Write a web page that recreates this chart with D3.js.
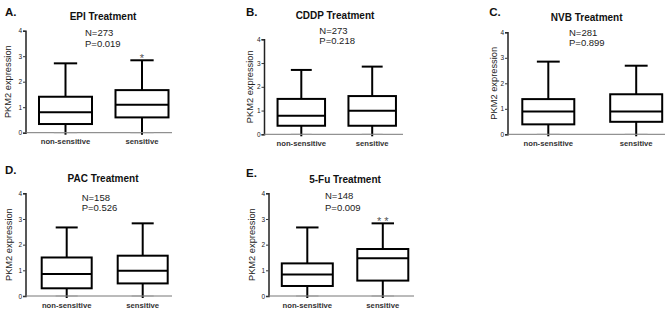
<!DOCTYPE html>
<html>
<head>
<meta charset="utf-8">
<script src="https://cdn.jsdelivr.net/npm/d3@7"></script>
<style>
  body { margin: 0; background: #fff; }
  svg { display: block; font-family: "Liberation Sans", Arial, sans-serif; }
</style>
</head>
<body>
<div id="chart"></div>
<script>
// data
var panelLetters = ["A.", "B.", "C.", "D.", "E."];
var treatments = ["EPI Treatment", "CDDP Treatment", "NVB Treatment", "PAC Treatment", "5-Fu Treatment"];
var nValues = [273, 273, 281, 158, 148];
var pValues = ["0.019", "0.218", "0.899", "0.526", "0.009"];
var significance = ["*", "", "", "", "* *"];
var groups = ["non-sensitive", "sensitive"];
var yTicks = [0, 1, 2, 3, 4];
var yLabel = "PKM2 expression";

// box stats per panel: [non-sensitive, sensitive]
var boxMin = [[0, 0], [0, 0], [0, 0], [0, 0], [0, 0]];
var boxQ1 = [[0.34, 0.60], [0.36, 0.36], [0.39, 0.49], [0.30, 0.49], [0.39, 0.60]];
var boxMedian = [[0.80, 1.10], [0.78, 0.99], [0.89, 0.89], [0.86, 0.98], [0.84, 1.47]];
var boxQ3 = [[1.41, 1.67], [1.49, 1.61], [1.38, 1.57], [1.50, 1.57], [1.27, 1.83]];
var boxMax = [[2.72, 2.84], [2.71, 2.85], [2.85, 2.69], [2.67, 2.83], [2.67, 2.83]];

// layout of each small panel (pixels)
var layout = [
    {ax: 25.5, axEnd: 172, c0: 65.5, c1: 142, bw: 53, yTop: 30.7, yBot: 132.7, lx: 5, ly: 16, tx: 103, ty: 19.5, nx: 85, ny: 35.5, py: 46.5, labX: 8},
    {ax: 264, axEnd: 403, c0: 301.3, c1: 372.2, bw: 47.5, yTop: 39.3, yBot: 134.3, lx: 246, ly: 15.7, tx: 335, ty: 18.5, nx: 319.3, ny: 34, py: 44, labX: 250},
    {ax: 507.5, axEnd: 665, c0: 548.3, c1: 636.2, bw: 52, yTop: 32.3, yBot: 134.3, lx: 489.3, ly: 15.7, tx: 586.7, ty: 20.5, nx: 569, ny: 35.5, py: 46, labX: 494},
    {ax: 25.5, axEnd: 172, c0: 66.7, c1: 142.7, bw: 50, yTop: 193.3, yBot: 296, lx: 5, ly: 174, tx: 103, ty: 182, nx: 81.7, ny: 200.5, py: 210.5, labX: 8.5},
    {ax: 268.5, axEnd: 414, c0: 307.3, c1: 382.8, bw: 51, yTop: 193.3, yBot: 296, lx: 246, ly: 176.5, tx: 345, ty: 183, nx: 325, ny: 199, py: 210.5, labX: 251.5}
];

var svg = d3.select("#chart")
    .append("svg")
    .attr("width", 667)
    .attr("height", 309);

treatments.forEach(function(t, p) {
    var L = layout[p];
    var g = svg.append("g");

    var y = d3.scaleLinear().domain([0, 4]).range([L.yBot, L.yTop]);
    var x = d3.scalePoint().domain(groups).range([L.c0, L.c1]);

    // y axis
    var yAxis = g.append("g")
        .attr("transform", "translate(" + L.ax + ",0)")
        .call(d3.axisLeft(y).tickValues(yTicks).tickSize(2.5).tickPadding(1).tickFormat(d3.format("d")));
    yAxis.select(".domain").attr("stroke", "#222").attr("stroke-width", 1.5);
    yAxis.selectAll(".tick line").attr("stroke", "#333");
    yAxis.selectAll("text").style("font-size", "6.5px").attr("fill", "#222");

    // x axis
    var xAxis = g.append("g")
        .attr("transform", "translate(0," + L.yBot + ")");
    xAxis.append("line")
        .attr("x1", L.ax).attr("x2", L.axEnd)
        .attr("stroke", "#777").attr("stroke-width", 1);
    xAxis.selectAll("text")
        .data(groups)
        .enter()
        .append("text")
        .attr("x", function(d) { return x(d); })
        .attr("y", 11.8)
        .attr("text-anchor", "middle")
        .style("font-size", "7.7px")
        .style("font-weight", "bold")
        .attr("fill", "#333")
        .text(function(d) { return d; });

    // boxes
    groups.forEach(function(gr, i) {
        var cx = x(gr);
        var hw = L.bw / 2;
        var capw = L.bw * 0.22;
        var stroke = "#000";

        // whiskers
        g.append("line")
            .attr("x1", cx).attr("x2", cx)
            .attr("y1", y(boxMax[p][i])).attr("y2", y(boxQ3[p][i]))
            .attr("stroke", stroke).attr("stroke-width", 2);
        g.append("line")
            .attr("x1", cx).attr("x2", cx)
            .attr("y1", y(boxQ1[p][i])).attr("y2", y(boxMin[p][i]) + 2)
            .attr("stroke", stroke).attr("stroke-width", 2);
        g.append("line")
            .attr("x1", cx - capw).attr("x2", cx + capw)
            .attr("y1", y(boxMax[p][i])).attr("y2", y(boxMax[p][i]))
            .attr("stroke", stroke).attr("stroke-width", 2);
        g.append("line")
            .attr("x1", cx - capw).attr("x2", cx + capw)
            .attr("y1", y(boxMin[p][i])).attr("y2", y(boxMin[p][i]))
            .attr("stroke", "#999").attr("stroke-width", 1);

        // box
        g.append("rect")
            .attr("x", cx - hw)
            .attr("y", y(boxQ3[p][i]))
            .attr("width", L.bw)
            .attr("height", y(boxQ1[p][i]) - y(boxQ3[p][i]))
            .attr("fill", "#fff")
            .attr("stroke", stroke)
            .attr("stroke-width", 2);
        g.append("line")
            .attr("x1", cx - hw).attr("x2", cx + hw)
            .attr("y1", y(boxMedian[p][i])).attr("y2", y(boxMedian[p][i]))
            .attr("stroke", stroke).attr("stroke-width", 2);
    });

    // significance stars above sensitive group
    if (significance[p]) {
        g.append("text")
            .attr("x", x(groups[1]))
            .attr("y", y(boxMax[p][1]) + 2)
            .attr("text-anchor", "middle")
            .style("font-size", "11px")
            .attr("fill", "#555")
            .text(significance[p]);
    }

    // y label
    g.append("text")
        .attr("transform", "translate(" + L.labX + "," + ((L.yTop + L.yBot) / 2) + ") rotate(-90)")
        .attr("text-anchor", "middle")
        .attr("dy", "0.35em")
        .style("font-size", "9.3px")
        .attr("fill", "#222")
        .text(yLabel);

    // panel letter
    g.append("text")
        .attr("x", L.lx).attr("y", L.ly)
        .style("font-size", "11.5px")
        .style("font-weight", "bold")
        .attr("fill", "#111")
        .text(panelLetters[p]);

    // title
    g.append("text")
        .attr("x", L.tx).attr("y", L.ty)
        .attr("text-anchor", "middle")
        .style("font-size", "10px")
        .style("font-weight", "bold")
        .attr("fill", "#111")
        .text(t);

    // N and P
    g.append("text")
        .attr("x", L.nx).attr("y", L.ny)
        .style("font-size", "9.5px")
        .attr("fill", "#222")
        .text("N=" + nValues[p]);
    g.append("text")
        .attr("x", L.nx).attr("y", L.py)
        .style("font-size", "9.5px")
        .attr("fill", "#222")
        .text("P=" + pValues[p]);
});
</script>
</body>
</html>
